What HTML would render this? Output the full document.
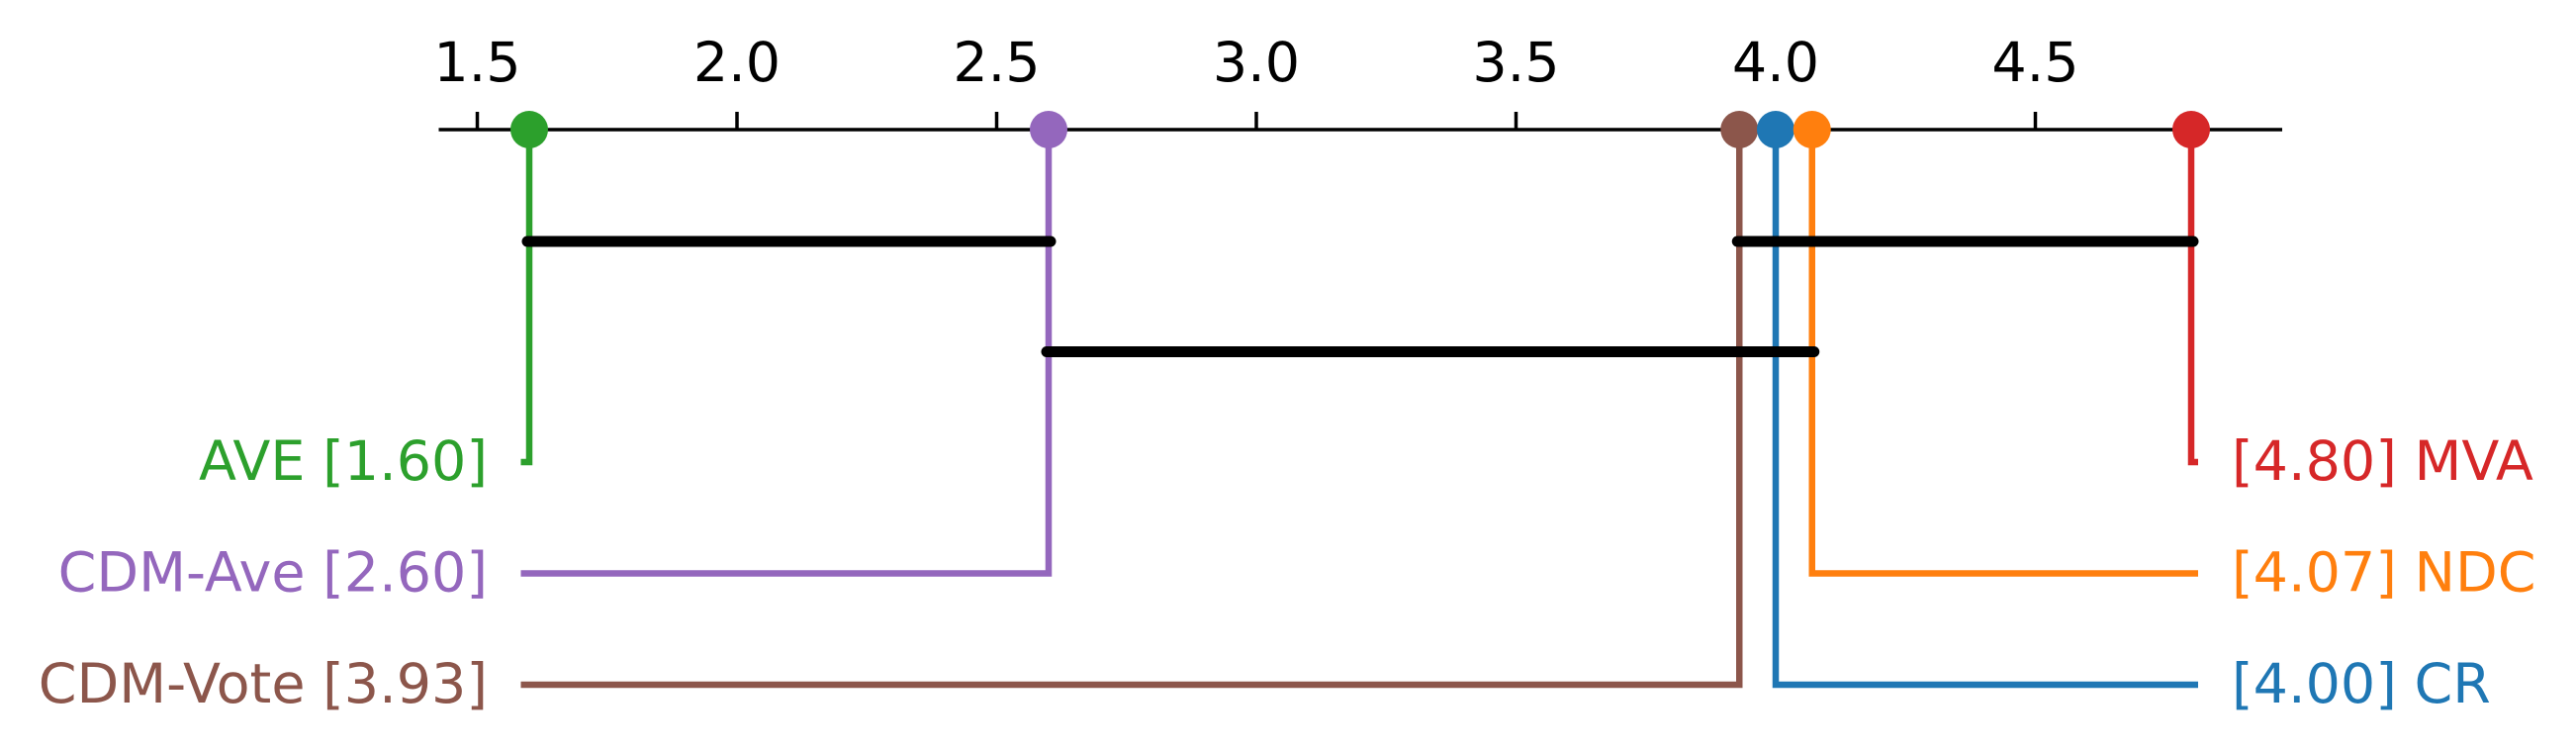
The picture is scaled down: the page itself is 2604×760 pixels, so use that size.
<!DOCTYPE html>
<html><head><meta charset="utf-8"><style>
html,body{margin:0;padding:0;background:#fff;}
svg{display:block;font-family:"DejaVu Sans","Liberation Sans",sans-serif;}
</style></head><body>
<svg id="chart" width="2604" height="760" viewBox="0 0 2604 760" xmlns="http://www.w3.org/2000/svg"></svg>
<script>
const tickValues = [1.5, 2.0, 2.5, 3.0, 3.5, 4.0, 4.5];
const tickLabels = ["1.5", "2.0", "2.5", "3.0", "3.5", "4.0", "4.5"];
const methodNames = ["AVE", "CDM-Ave", "CDM-Vote", "CR", "NDC", "MVA"];
const methodRanks = [1.60, 2.60, 3.93, 4.00, 4.07, 4.80];
const methodColors = ["#2ca02c", "#9467bd", "#8c564b", "#1f77b4", "#ff7f0e", "#d62728"];
const methodSide = ["left", "left", "left", "right", "right", "right"];
const methodRow = [0, 1, 2, 2, 1, 0];
const cliqueStart = [1.60, 2.60, 3.93];
const cliqueEnd = [2.60, 4.07, 4.80];
const cliqueRow = [0, 1, 0];

const NS = "http://www.w3.org/2000/svg";
const svg = document.getElementById("chart");
const x = v => 482.5 + (v - 1.5) * 525;
const axisY = 131;
const rowY = r => 467 + r * 112.5;
const cliqueY = r => 244 + r * 111.5;

function el(tag, attrs, parent) {
  const e = document.createElementNS(NS, tag);
  for (const k in attrs) e.setAttribute(k, attrs[k]);
  (parent || svg).appendChild(e);
  return e;
}

const axis = el("line", {x1: 443.5, y1: axisY, x2: 2307, y2: axisY, stroke: "#000", "stroke-width": 3.5});


tickValues.forEach((v, i) => {
  const t = el("line", {x1: x(v), y1: axisY, x2: x(v), y2: 113, stroke: "#000", "stroke-width": 3.5});
  
  
  const lb = el("text", {x: x(v), y: 82, "text-anchor": "middle", "font-size": 55.5, fill: "#000"});
  lb.textContent = tickLabels[i];
  
  
});

methodRanks.forEach((r, i) => {
  const cx = x(r), y = rowY(methodRow[i]), c = methodColors[i];
  const endX = methodSide[i] === "left" ? 526.5 : 2222;
  const p = el("polyline", {points: `${cx},${axisY} ${cx},${y} ${endX},${y}`, fill: "none", stroke: c, "stroke-width": 6.5});
  
  
  const d = el("circle", {cx: cx, cy: axisY, r: 19, fill: c});
  
  
  const txt = el("text", {y: y + 18, "font-size": 55.5, fill: c});
  if (methodSide[i] === "left") {
    txt.setAttribute("x", 493);
    txt.setAttribute("text-anchor", "end");
    txt.textContent = `${methodNames[i]} [${r.toFixed(2)}]`;
  } else {
    txt.setAttribute("x", 2256);
    txt.textContent = `[${r.toFixed(2)}] ${methodNames[i]}`;
  }
  
  
});

cliqueStart.forEach((s, i) => {
  const b = el("line", {x1: x(s) - 2, y1: cliqueY(cliqueRow[i]), x2: x(cliqueEnd[i]) + 2, y2: cliqueY(cliqueRow[i]), stroke: "#000", "stroke-width": 11, "stroke-linecap": "round"});
  
  
});
</script>
</body></html>
